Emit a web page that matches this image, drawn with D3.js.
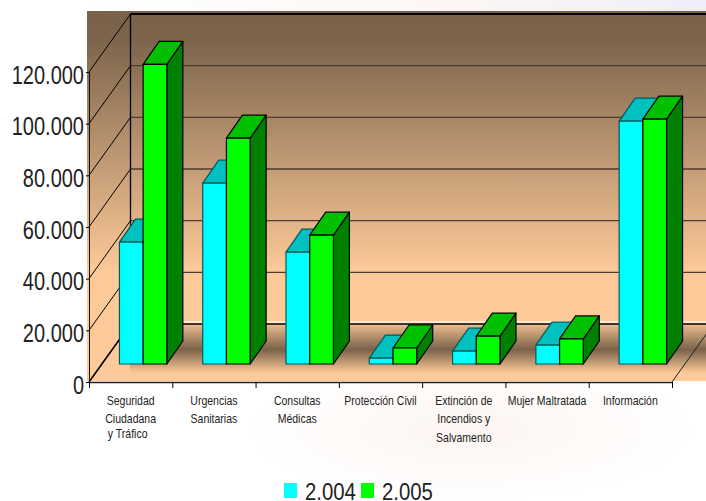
<!DOCTYPE html>
<html>
<head>
<meta charset="utf-8">
<script src="https://cdnjs.cloudflare.com/ajax/libs/d3/7.8.5/d3.min.js"></script>
<style>
html, body { margin: 0; padding: 0; background: #fff; }
svg { display: block; }
text { font-family: "Liberation Sans", sans-serif; fill: #222; }
</style>
</head>
<body>
<svg id="chart" width="706" height="501"></svg>
<script>
var categories = [
    ["Seguridad", "Ciudadana", "y Tráfico"],
    ["Urgencias", "Sanitarias"],
    ["Consultas", "Médicas"],
    ["Protección Civil"],
    ["Extinción de", "Incendios y", "Salvamento"],
    ["Mujer Maltratada"],
    ["Información"]
];
var values2004 = [47200, 70000, 43300, 2300, 5000, 7300, 94000];
var values2005 = [116000, 87400, 49900, 6200, 10800, 9700, 94800];
var yTicks = [0, 20000, 40000, 60000, 80000, 100000, 120000];
var seriesNames = ["2.004", "2.005"];

var svg = d3.select("#chart");

var x = d3.scaleBand().domain(d3.range(categories.length)).range([89, 672]);
var y = d3.scaleLinear().domain([0, 120000]).range([382, 72]);
var fmt = function(d) { return d3.format(",")(d).replace(/,/g, "."); };

// depth of the box: back wall sits up and to the right of the front axis
var backX = 41.5, backY = -58;
var barDx = 12.5, barDy = -18;   // bars stand this far in from the front edge
var topDx = 16, topDy = -23;     // depth of a bar
var barW = 23.7;

var defs = svg.append("defs");
var wall = defs.append("linearGradient").attr("id", "wall")
    .attr("gradientUnits", "userSpaceOnUse")
    .attr("x1", 0).attr("x2", 0).attr("y1", 11).attr("y2", 381);
wall.append("stop").attr("offset", 0).attr("stop-color", "#79614a");
wall.append("stop").attr("offset", 0.08).attr("stop-color", "#7d654c");
wall.append("stop").attr("offset", 0.7).attr("stop-color", "#fcc998");
wall.append("stop").attr("offset", 1).attr("stop-color", "#fdcb9b");

var shadow = defs.append("linearGradient").attr("id", "shadow")
    .attr("gradientUnits", "userSpaceOnUse")
    .attr("x1", 0).attr("x2", 0).attr("y1", 325).attr("y2", 381);
shadow.append("stop").attr("offset", 0).attr("stop-color", "#e8b98c");
shadow.append("stop").attr("offset", 0.44).attr("stop-color", "#7a6249");
shadow.append("stop").attr("offset", 0.85).attr("stop-color", "#fcc998");
shadow.append("stop").attr("offset", 1).attr("stop-color", "#fdcb9b");

// faint tint of the page behind the chart
var tint = defs.append("linearGradient").attr("id", "tint")
    .attr("x1", 0).attr("x2", 1).attr("y1", 0).attr("y2", 0);
tint.append("stop").attr("offset", 0).attr("stop-color", "#ffffff");
tint.append("stop").attr("offset", 0.6).attr("stop-color", "#fdf6f4");
tint.append("stop").attr("offset", 1).attr("stop-color", "#efeefb");
svg.append("rect").attr("x", 87).attr("y", 0).attr("width", 619).attr("height", 11).attr("fill", "url(#tint)");

var blob = defs.append("radialGradient").attr("id", "blob");
blob.append("stop").attr("offset", 0).attr("stop-color", "#fdf5f1");
blob.append("stop").attr("offset", 1).attr("stop-color", "#ffffff");
svg.append("ellipse").attr("cx", 470).attr("cy", 430).attr("rx", 220).attr("ry", 70).attr("fill", "url(#blob)");

// background panels
svg.append("rect").attr("x", 87).attr("y", 11).attr("width", 619).attr("height", 370).attr("fill", "url(#wall)");
svg.append("rect").attr("x", 130).attr("y", 325).attr("width", 576).attr("height", 56).attr("fill", "url(#shadow)");

// gridlines: back wall, side wall
svg.append("line").attr("x1", 130.5).attr("x2", 706)
    .attr("y1", y(0) + backY - 2).attr("y2", y(0) + backY - 2)
    .attr("stroke", "#fff").attr("stroke-width", 1.5).attr("opacity", 0.8);
svg.selectAll(".grid").data(yTicks).enter().append("line")
    .attr("class", "grid")
    .attr("x1", 130.5).attr("x2", 706)
    .attr("y1", function(d) { return y(d) + backY; })
    .attr("y2", function(d) { return y(d) + backY; })
    .attr("stroke", function(d) { return d === 120000 || d === 0 ? "#000" : "#4d3d30"; })
    .attr("stroke-width", function(d) { return d === 120000 ? 2 : 1.3; });
svg.selectAll(".side").data(yTicks).enter().append("line")
    .attr("class", "side")
    .attr("x1", 89).attr("x2", 89 + backX)
    .attr("y1", function(d) { return y(d); })
    .attr("y2", function(d) { return y(d) + backY; })
    .attr("stroke", "#000")
    .attr("stroke-width", function(d) { return d === 0 ? 1.6 : 1; });
svg.append("line").attr("x1", 130.5).attr("x2", 130.5)
    .attr("y1", y(120000) + backY).attr("y2", y(0) + backY)
    .attr("stroke", "#000").attr("stroke-width", 1.3);
svg.append("line").attr("x1", x(6) + x.bandwidth()).attr("x2", x(6) + x.bandwidth() + backX)
    .attr("y1", y(0)).attr("y2", y(0) + backY)
    .attr("stroke", "#222").attr("stroke-width", 1);

// bars
var series = [
    { values: values2004, off: -barW, front: "#00ffff", top: "#00c0c0", side: "#008080", stroke: "#005a5a" },
    { values: values2005, off: 0, front: "#00ff00", top: "#00c000", side: "#008000", stroke: "#000" }
];
function pts(a) { return a.map(function(p) { return p.join(","); }).join(" "); }

categories.forEach(function(c, i) {
    var cx = x(i) + x.bandwidth() / 2 + barDx;
    series.forEach(function(s) {
        var x0 = cx + s.off, x1 = x0 + barW;
        var y0 = y(0) + barDy, y1 = y(s.values[i]) + barDy;
        var g = svg.append("g").attr("stroke", s.stroke).attr("stroke-width", 1.2).attr("stroke-linejoin", "round");
        g.append("polygon").attr("fill", s.side).attr("points", pts([
            [x1, y0], [x1 + topDx, y0 + topDy], [x1 + topDx, y1 + topDy], [x1, y1]]));
        g.append("polygon").attr("fill", s.top).attr("points", pts([
            [x0, y1], [x0 + topDx, y1 + topDy], [x1 + topDx, y1 + topDy], [x1, y1]]));
        g.append("rect").attr("fill", s.front).attr("x", x0).attr("y", y1)
            .attr("width", barW).attr("height", y0 - y1);
    });
});

// axes. no narrow font is installed, so labels are squeezed horizontally
var yScaleX = 0.8;
var yAxis = d3.axisLeft(y).tickValues(yTicks).tickFormat(fmt).tickSize(3).tickPadding(2);
var yG = svg.append("g").attr("transform", "translate(89,0)").call(yAxis);
yG.selectAll("text")
    .style("font-size", "25px")
    .attr("x", -5 / yScaleX)
    .attr("dy", "0.44em")
    .attr("transform", "scale(" + yScaleX + ",1)");
yG.select(".domain").attr("stroke", "#111");

var xAxis = d3.axisBottom(d3.scaleLinear().domain([0, categories.length]).range([89, 672]))
    .ticks(categories.length).tickFormat("").tickSize(6).tickSizeOuter(0);
var xG = svg.append("g").attr("transform", "translate(0,382)").call(xAxis);
xG.select(".domain").attr("stroke", "#222").attr("stroke-width", 1.3);

// category labels
var catScaleX = 0.84;
categories.forEach(function(lines, i) {
    svg.append("g").selectAll("text").data(lines).enter().append("text")
        .attr("transform", function(d, j) {
            var lx = x(i) + x.bandwidth() / 2 - (j === 2 && i === 0 ? 3 : 0);
            var ly = j < 2 ? 405 + j * 18 : (i === 0 ? 438 : 442);
            return "translate(" + lx + "," + ly + ") scale(" + catScaleX + ",1)";
        })
        .attr("text-anchor", "middle")
        .style("font-size", "12.5px")
        .text(function(d) { return d; });
});

// legend
var legend = svg.append("g");
[0, 1].forEach(function(k) {
    var lx = [284, 361][k];
    legend.append("rect").attr("x", lx).attr("y", 483).attr("width", 13).attr("height", 15).attr("fill", series[k].front);
    legend.append("text")
        .attr("transform", "translate(" + (lx + 21) + ",499.5) scale(0.83,1)")
        .style("font-size", "24.5px")
        .text(seriesNames[k]);
});
</script>
</body>
</html>
